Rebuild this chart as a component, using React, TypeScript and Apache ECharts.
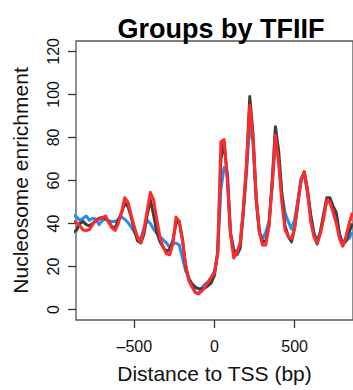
import React, { useEffect, useRef } from "react";
import * as echarts from "echarts";

const positions = [
  -880, -860, -840, -820, -800, -780, -760, -740, -720, -700,
  -680, -660, -640, -620, -600, -580, -560, -540, -520, -500,
  -480, -460, -440, -420, -400, -380, -360, -340, -320, -300,
  -280, -260, -240, -220, -200, -180, -160, -140, -120, -100,
  -80, -60, -40, -20, 0, 20, 40, 60, 80, 100,
  120, 140, 160, 180, 200, 220, 240, 260, 280, 300,
  320, 340, 360, 380, 400, 420, 440, 460, 480, 500,
  520, 540, 560, 580, 600, 620, 640, 660, 680, 700,
  720, 740, 760, 780, 800, 820, 840, 860,
];

const blueValues = [
  44, 43, 41.5, 42.5, 43.5, 41.5, 42.5, 42, 39.5, 41.5,
  42, 41.3, 41, 41, 42, 43, 42, 40.5, 38.5, 36,
  33.5, 33, 38, 41.5, 40, 37.5, 35.5, 34, 32.5, 31,
  29, 30.5, 31, 30, 24, 18, 15, 11.5, 8, 7.4,
  10, 11.8, 12.8, 15, 18, 26, 56, 66, 64, 36,
  28, 27, 30, 45, 64, 86, 78, 50, 36, 33,
  36, 41, 58, 78, 70, 54, 45, 41, 37.5, 42,
  51, 61, 63, 54, 44, 36, 32, 36, 43, 50,
  50, 47, 42, 35, 31, 32, 33, 36,
];

const grayValues = [
  36, 37, 40, 41, 39.5, 39, 40, 41.5, 42.5, 42.8,
  42.5, 41, 38.5, 38, 41.5, 45, 49.5, 48, 43, 37,
  32, 31, 35, 44, 51, 44, 36, 31.5, 29, 27,
  28, 32, 40, 41, 33, 20, 14, 12, 10.5, 9.7,
  9.7, 10, 11.2, 12.5, 16, 27, 70, 77.5, 62, 35,
  27, 25.5, 28.5, 46, 67, 99, 82, 52, 36, 31.5,
  32, 39, 60, 85, 74, 54, 39, 34, 31.5, 38,
  49, 60, 64, 56, 44, 35, 30.5, 36, 44, 52,
  52, 48, 45, 35, 30, 32, 36, 40,
];

const redValues = [
  41, 40.5, 39, 37, 36.8, 37.2, 39.5, 41.5, 42, 42.8,
  43.5, 40.5, 38, 36.8, 40, 45, 52, 50, 44, 38.5,
  33.5, 31, 37, 46, 54.5, 51, 42, 33.5, 29, 26,
  25.5, 30.5, 43, 41, 32, 21, 13.5, 10.5, 8, 7.4,
  8.5, 10.5, 12.8, 15, 17, 26, 78, 79, 60, 35,
  24, 26.5, 31, 47, 68, 95, 80, 52, 36, 30,
  30, 39, 58, 81, 68, 50, 37, 34, 33, 38,
  50, 60, 64, 55, 41, 34, 31, 35, 42, 51,
  50, 45, 40, 33, 29.5, 34, 40, 45,
];

const xTicks = [-500, 0, 500];
const yTicks = [0, 20, 40, 60, 80, 100, 120];

const FONT = "'Liberation Sans', Arial, Helvetica, sans-serif";

export default function App() {
  const ref = useRef<HTMLDivElement>(null);

  useEffect(() => {
    if (!ref.current) return;
    const chart = echarts.init(ref.current, undefined, { renderer: "svg" });
    const mk = (vals: number[]) => positions.map((p, i) => [p, vals[i]]);
    const lineSeries = (name: string, vals: number[], color: string) => ({
      name,
      type: "line",
      data: mk(vals),
      showSymbol: false,
      symbol: "none",
      lineStyle: { color, width: 3, join: "round" },
      itemStyle: { color },
      clip: true,
    });
    chart.setOption({
      animation: false,
      backgroundColor: "#ffffff",
      textStyle: { fontFamily: FONT },
      title: {
        text: "Groups by TFIIF",
        left: 216,
        textAlign: "center",
        top: 10,
        textStyle: { fontFamily: FONT, fontSize: 27, fontWeight: "bold", color: "#000" },
      },
      grid: {
        left: 76,
        right: -4,
        top: 41,
        bottom: 70,
        show: true,
        borderColor: "#555",
        borderWidth: 1.3,
        containLabel: false,
      },
      xAxis: {
        type: "value",
        min: -864,
        max: 864,
        position: "bottom",
        name: "Distance to TSS (bp)",
        nameLocation: "middle",
        nameGap: 43,
        nameTextStyle: { fontFamily: FONT, fontSize: 21, color: "#111" },
        axisLine: { show: false, onZero: false },
        splitLine: { show: false },
        axisTick: {
          show: true,
          length: 8,
          inside: false,
          customValues: xTicks,
          lineStyle: { color: "#333", width: 1.3 },
        },
        axisLabel: {
          customValues: xTicks,
          margin: 18,
          fontFamily: FONT,
          fontSize: 16,
          color: "#111",
          formatter: (v: number) => (v < 0 ? "\u2013" + Math.abs(v) : String(v)),
        },
      },
      yAxis: {
        type: "value",
        min: -4.8,
        max: 124.8,
        position: "left",
        name: "Nucleosome enrichment",
        nameLocation: "middle",
        nameGap: 45,
        nameRotate: 90,
        nameTextStyle: { fontFamily: FONT, fontSize: 21, color: "#111" },
        axisLine: { show: false, onZero: false },
        splitLine: { show: false },
        axisTick: {
          show: true,
          length: 8,
          inside: false,
          customValues: yTicks,
          lineStyle: { color: "#333", width: 1.3 },
        },
        axisLabel: {
          customValues: yTicks,
          rotate: 90,
          margin: 15,
          fontFamily: FONT,
          fontSize: 16,
          color: "#111",
        },
      },
      series: [
        lineSeries("blue", blueValues, "#2B8CF0"),
        lineSeries("gray", grayValues, "#3E3E3E"),
        lineSeries("red", redValues, "#FF2A2A"),
      ],
    });
    return () => chart.dispose();
  }, []);

  return (
    <div
      ref={ref}
      style={{ position: "absolute", left: 0, top: 0, width: 353, height: 390 }}
    />
  );
}
